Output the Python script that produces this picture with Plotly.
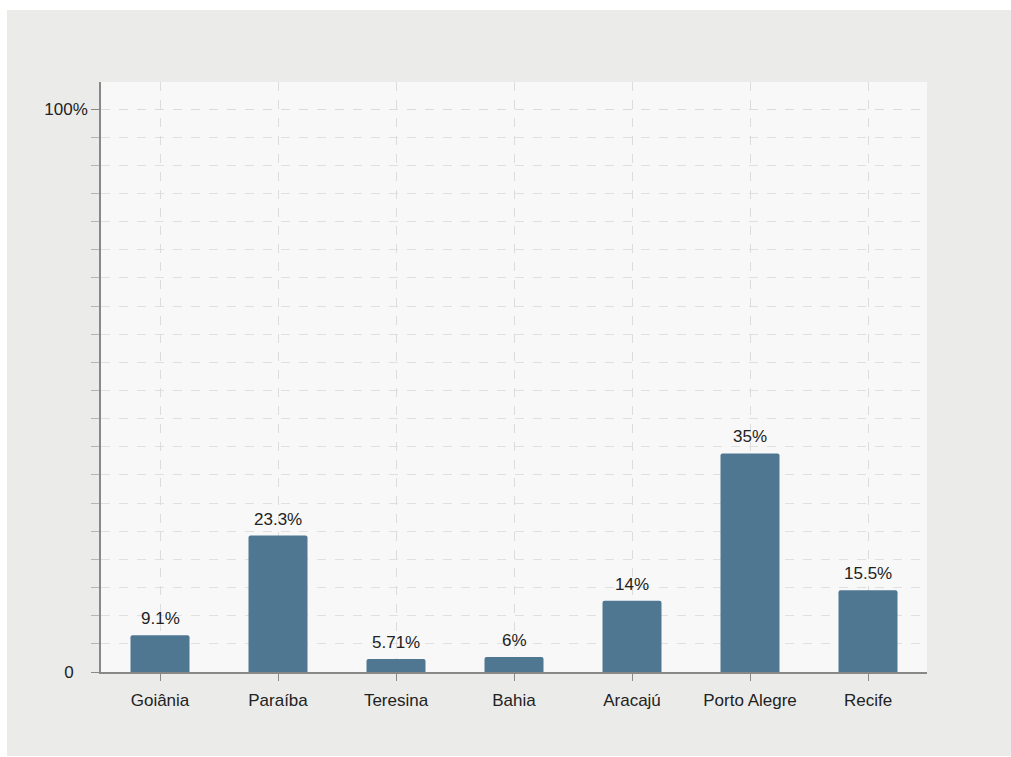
import plotly.graph_objects as go

categories = ["Goiânia", "Paraíba", "Teresina", "Bahia", "Aracajú", "Porto Alegre", "Recife"]
values = [9.1, 23.3, 5.71, 6, 14, 35, 15.5]
value_labels = ["9.1%", "23.3%", "5.71%", "6%", "14%", "35%", "15.5%"]
# the source chart's axis is offset: its "0" baseline and "100%" line sit at these data values
y_axis_min = 3.86
y_axis_max = 87.93
y_tick_vals = [3.86, 84.08]
y_tick_text = ["0\u00a0\u00a0\u00a0", "100%"]
y_minor_step = 4.011

W, H = 1011, 757
L, R, T, B = 101, 927, 82, 672
FONT = "Liberation Sans, Arial, sans-serif"

fig = go.Figure(go.Bar(
    x=categories, y=values,
    marker=dict(color="#4f7792", line=dict(width=0), cornerradius=2),
    width=0.5, cliponaxis=False,
))

for c, v, t in zip(categories, values, value_labels):
    fig.add_annotation(x=c, y=v, text=t, showarrow=False, yanchor="bottom", yshift=5,
                       font=dict(size=17, color="#222222", family=FONT))

def px_x(p):
    return (p - L) / (R - L)

def px_y(p):
    return (B - p) / (B - T)

# white border strips around the gray canvas
shapes = [
    dict(type="rect", xref="paper", yref="paper", x0=px_x(-5), x1=px_x(W + 5), y0=px_y(10), y1=px_y(-5),
         fillcolor="white", line=dict(width=0), layer="above"),
    dict(type="rect", xref="paper", yref="paper", x0=px_x(-5), x1=px_x(7), y0=px_y(H + 5), y1=px_y(-5),
         fillcolor="white", line=dict(width=0), layer="above"),
    dict(type="rect", xref="paper", yref="paper", x0=px_x(-5), x1=px_x(W + 5), y0=px_y(H + 5), y1=px_y(756),
         fillcolor="white", line=dict(width=0), layer="above"),
]

fig.update_layout(
    width=W, height=H,
    margin=dict(l=L, r=W - R, t=T, b=H - B, pad=0),
    paper_bgcolor="#ebecea",
    plot_bgcolor="#f8f8f8",
    showlegend=False,
    font=dict(family=FONT, size=17, color="#222222"),
    shapes=shapes,
)
fig.update_xaxes(
    range=[-0.5, 6.5], showline=True, linecolor="#888888", linewidth=1.5,
    ticks="outside", ticklen=7, tickcolor="#888888", ticklabelstandoff=5,
    showgrid=True, gridcolor="#dcdcdc", griddash="dash", gridwidth=1,
    tickfont=dict(size=17, color="#222222", family=FONT), zeroline=False,
)
fig.update_yaxes(
    range=[y_axis_min, y_axis_max], tickvals=y_tick_vals, ticktext=y_tick_text,
    showline=True, linecolor="#888888", linewidth=1.5,
    ticks="outside", ticklen=8, tickcolor="#888888",
    showgrid=True, gridcolor="#dcdcdc", griddash="dash", gridwidth=1,
    zeroline=False, tickfont=dict(size=17, color="#222222", family=FONT),
    minor=dict(dtick=y_minor_step, tick0=y_axis_min, ticks="outside", ticklen=8, tickcolor="#b5b5b5",
               showgrid=True, gridcolor="#e0e0e0", griddash="dash", gridwidth=1),
)

fig.write_html("out.html")
